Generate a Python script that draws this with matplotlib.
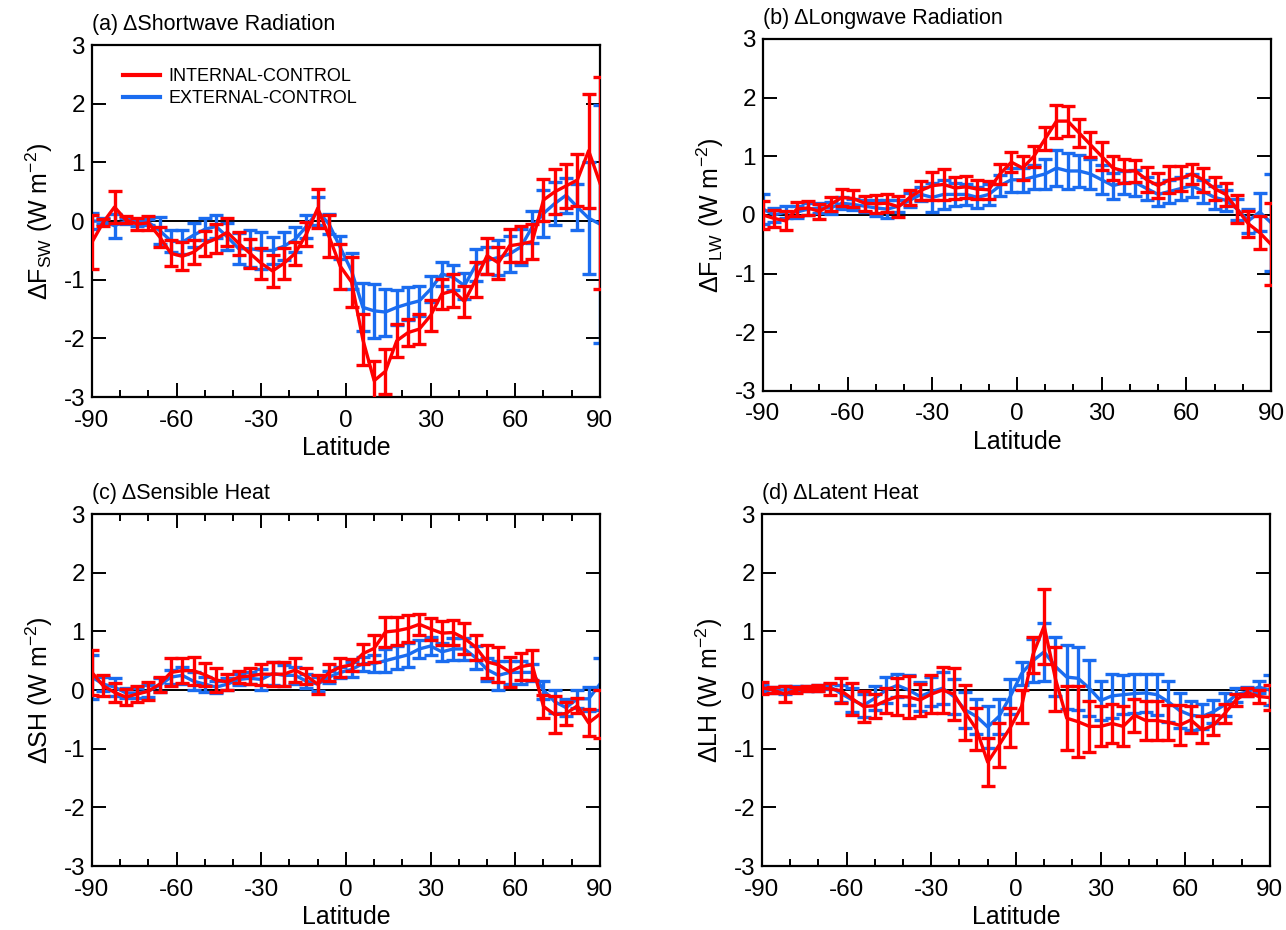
import numpy as np
import matplotlib
matplotlib.use("Agg")
import matplotlib.pyplot as plt
from matplotlib.lines import Line2D

plt.rcParams['font.family'] = ['Liberation Sans', 'DejaVu Sans']
plt.rcParams['mathtext.fontset'] = 'custom'
plt.rcParams['mathtext.rm'] = 'Liberation Sans'
plt.rcParams['axes.unicode_minus'] = False

# latitude grid (4 degree bands)
lat = np.arange(-90, 91, 4)

# (a) shortwave
sw_int = [-0.36, -0.02, 0.24, 0.02, -0.05, -0.03, -0.27, -0.55, -0.60, -0.53,
          -0.38, -0.30, -0.19, -0.38, -0.55, -0.72, -0.85, -0.72, -0.55, -0.22,
          0.22, -0.26, -0.77, -1.04, -2.02, -2.72, -2.56, -2.04, -1.90, -1.84,
          -1.61, -1.24, -1.19, -1.37, -1.00, -0.59, -0.71, -0.42, -0.39, -0.35,
          0.36, 0.50, 0.60, 0.70, 1.20, 0.65]
sw_int_err = [0.46, 0.06, 0.27, 0.06, 0.10, 0.12, 0.17, 0.22, 0.24, 0.20,
              0.21, 0.25, 0.24, 0.20, 0.25, 0.27, 0.28, 0.26, 0.19, 0.20,
              0.33, 0.36, 0.38, 0.43, 0.44, 0.33, 0.38, 0.28, 0.23, 0.26,
              0.26, 0.26, 0.28, 0.27, 0.30, 0.31, 0.27, 0.28, 0.31, 0.30,
              0.35, 0.38, 0.37, 0.45, 0.97, 1.80]
sw_ext = [0.00, 0.00, -0.08, 0.00, -0.03, -0.02, -0.16, -0.34, -0.36, -0.24,
          -0.14, -0.09, -0.27, -0.47, -0.47, -0.50, -0.50, -0.43, -0.31, -0.09,
          0.17, -0.05, -0.45, -0.85, -1.47, -1.53, -1.55, -1.47, -1.41, -1.36,
          -1.16, -0.90, -0.96, -1.10, -0.75, -0.67, -0.62, -0.56, -0.44, -0.10,
          0.13, 0.30, 0.44, 0.24, 0.05, -0.05]
sw_ext_err = [0.13, 0.05, 0.20, 0.05, 0.06, 0.05, 0.23, 0.19, 0.20, 0.20,
              0.19, 0.19, 0.23, 0.26, 0.31, 0.31, 0.23, 0.24, 0.21, 0.19,
              0.24, 0.17, 0.20, 0.30, 0.41, 0.46, 0.40, 0.30, 0.28, 0.25,
              0.22, 0.20, 0.22, 0.22, 0.27, 0.23, 0.30, 0.30, 0.30, 0.27,
              0.40, 0.36, 0.30, 0.40, 0.95, 2.03]

# (b) longwave
lw_int = [0.00, -0.06, -0.10, 0.10, 0.12, 0.06, 0.18, 0.30, 0.28, 0.20,
          0.19, 0.20, 0.14, 0.30, 0.42, 0.50, 0.52, 0.46, 0.48, 0.44,
          0.43, 0.70, 0.90, 0.80, 1.00, 1.30, 1.60, 1.60, 1.40, 1.20,
          1.00, 0.80, 0.75, 0.75, 0.60, 0.50, 0.60, 0.62, 0.70, 0.60,
          0.45, 0.35, 0.10, -0.15, -0.30, -0.50]
lw_int_err = [0.24, 0.15, 0.16, 0.12, 0.12, 0.13, 0.12, 0.15, 0.15, 0.13,
              0.15, 0.15, 0.18, 0.13, 0.16, 0.24, 0.26, 0.19, 0.19, 0.16,
              0.15, 0.17, 0.17, 0.20, 0.18, 0.20, 0.28, 0.26, 0.24, 0.21,
              0.24, 0.20, 0.20, 0.18, 0.21, 0.21, 0.23, 0.21, 0.17, 0.20,
              0.20, 0.20, 0.24, 0.22, 0.28, 0.70]
lw_ext = [0.10, 0.00, 0.05, 0.05, 0.10, 0.12, 0.12, 0.20, 0.18, 0.15,
          0.12, 0.10, 0.15, 0.25, 0.35, 0.30, 0.35, 0.35, 0.35, 0.30,
          0.35, 0.50, 0.60, 0.60, 0.65, 0.70, 0.80, 0.75, 0.75, 0.70,
          0.60, 0.50, 0.55, 0.55, 0.45, 0.35, 0.40, 0.45, 0.50, 0.40,
          0.30, 0.25, 0.10, -0.10, 0.05, -0.13]
lw_ext_err = [0.26, 0.12, 0.10, 0.10, 0.10, 0.08, 0.10, 0.10, 0.10, 0.10,
              0.13, 0.15, 0.10, 0.12, 0.12, 0.25, 0.25, 0.20, 0.18, 0.18,
              0.18, 0.18, 0.20, 0.20, 0.20, 0.25, 0.30, 0.30, 0.28, 0.25,
              0.25, 0.22, 0.20, 0.22, 0.20, 0.20, 0.20, 0.20, 0.20, 0.20,
              0.20, 0.18, 0.18, 0.20, 0.33, 0.83]

# (c) sensible heat
sh_int = [0.30, 0.07, -0.04, -0.12, -0.07, -0.02, 0.10, 0.30, 0.33, 0.33,
          0.26, 0.17, 0.14, 0.22, 0.24, 0.27, 0.27, 0.27, 0.34, 0.24,
          0.10, 0.30, 0.39, 0.43, 0.62, 0.71, 0.99, 1.01, 1.05, 1.12,
          1.04, 0.97, 0.98, 0.88, 0.73, 0.48, 0.43, 0.31, 0.40, 0.43,
          -0.28, -0.42, -0.40, -0.27, -0.56, -0.41]
sh_int_err = [0.38, 0.18, 0.16, 0.13, 0.13, 0.15, 0.13, 0.24, 0.21, 0.24,
              0.20, 0.20, 0.14, 0.10, 0.13, 0.18, 0.21, 0.21, 0.20, 0.13,
              0.16, 0.14, 0.16, 0.10, 0.17, 0.23, 0.26, 0.24, 0.23, 0.18,
              0.18, 0.20, 0.21, 0.26, 0.21, 0.28, 0.30, 0.26, 0.23, 0.26,
              0.20, 0.31, 0.20, 0.13, 0.23, 0.41]
sh_ext = [0.22, 0.10, 0.05, -0.05, -0.05, -0.02, 0.08, 0.22, 0.25, 0.15,
          0.10, 0.05, 0.10, 0.18, 0.20, 0.18, 0.28, 0.25, 0.25, 0.15,
          0.10, 0.22, 0.30, 0.35, 0.45, 0.45, 0.50, 0.55, 0.60, 0.70,
          0.75, 0.65, 0.70, 0.70, 0.55, 0.35, 0.25, 0.30, 0.30, 0.30,
          0.00, -0.20, -0.30, -0.15, -0.15, 0.10]
sh_ext_err = [0.38, 0.12, 0.15, 0.08, 0.08, 0.10, 0.12, 0.12, 0.15, 0.15,
              0.13, 0.10, 0.10, 0.10, 0.10, 0.18, 0.20, 0.18, 0.15, 0.12,
              0.12, 0.10, 0.10, 0.12, 0.12, 0.15, 0.20, 0.20, 0.20, 0.15,
              0.15, 0.15, 0.18, 0.18, 0.20, 0.20, 0.25, 0.20, 0.20, 0.15,
              0.15, 0.20, 0.15, 0.15, 0.20, 0.44]

# (d) latent heat
lh_int = [0.04, 0.00, -0.07, 0.00, 0.02, 0.03, 0.02, -0.01, -0.15, -0.28,
          -0.27, -0.18, -0.11, -0.12, -0.17, -0.07, 0.00, -0.07, -0.38, -0.67,
          -1.23, -0.94, -0.64, -0.28, 0.60, 1.09, 0.19, -0.48, -0.54, -0.62,
          -0.62, -0.57, -0.62, -0.43, -0.52, -0.52, -0.55, -0.60, -0.51, -0.68,
          -0.60, -0.40, -0.17, -0.04, -0.11, -0.13]
lh_int_err = [0.10, 0.05, 0.13, 0.05, 0.04, 0.05, 0.10, 0.21, 0.27, 0.26,
              0.21, 0.21, 0.31, 0.36, 0.28, 0.33, 0.40, 0.44, 0.47, 0.36,
              0.41, 0.37, 0.33, 0.28, 0.31, 0.64, 0.55, 0.54, 0.60, 0.43,
              0.34, 0.34, 0.34, 0.28, 0.33, 0.33, 0.30, 0.34, 0.23, 0.23,
              0.17, 0.17, 0.11, 0.07, 0.11, 0.21]
lh_ext = [0.03, 0.00, 0.00, 0.02, 0.03, 0.04, 0.06, -0.06, -0.17, -0.26,
          -0.14, 0.00, 0.08, 0.00, -0.11, -0.03, 0.03, -0.11, -0.34, -0.45,
          -0.63, -0.45, -0.11, 0.28, 0.50, 0.65, 0.40, 0.22, 0.20, 0.03,
          -0.18, -0.10, -0.08, -0.06, -0.05, -0.08, -0.20, -0.35, -0.43, -0.45,
          -0.37, -0.25, -0.08, -0.03, 0.05, 0.00]
lh_ext_err = [0.05, 0.05, 0.06, 0.04, 0.04, 0.05, 0.05, 0.15, 0.20, 0.20,
              0.20, 0.22, 0.20, 0.25, 0.25, 0.25, 0.27, 0.30, 0.30, 0.30,
              0.35, 0.30, 0.30, 0.20, 0.37, 0.50, 0.51, 0.54, 0.54, 0.48,
              0.33, 0.37, 0.33, 0.33, 0.33, 0.35, 0.35, 0.30, 0.25, 0.22,
              0.20, 0.20, 0.12, 0.08, 0.10, 0.25]

red = '#ff0000'
blue = '#1a6cf0'


def panel(rect, title, ylabel, ext, ext_err, intl, intl_err, top_ticks=False):
    ax = fig.add_axes(rect)
    ax.axhline(0, color='black', lw=1.4, zorder=1)
    kw = dict(lw=2.4, elinewidth=2.4, capsize=4.8, capthick=2.4)
    ax.errorbar(lat, ext, yerr=ext_err, color=blue, zorder=2, **kw)
    ax.errorbar(lat, intl, yerr=intl_err, color=red, zorder=3, **kw)
    ax.set_xlim(-90, 90)
    ax.set_ylim(-3, 3)
    ax.set_xticks([-90, -60, -30, 0, 30, 60, 90])
    ax.set_xticks(np.arange(-80, 90, 10), minor=True)
    ax.set_yticks([-3, -2, -1, 0, 1, 2, 3])
    ax.tick_params(axis='x', which='major', direction='in', length=10, width=1.4,
                   top=top_ticks, labelsize=17.5, pad=9)
    ax.tick_params(axis='x', which='minor', direction='in', length=5, width=1.4,
                   top=top_ticks)
    ax.tick_params(axis='y', direction='in', length=10, width=1.4, right=True,
                   labelsize=17.5, pad=5)
    for s in ax.spines.values():
        s.set_linewidth(1.6)
    ax.set_xlabel('Latitude', fontsize=18, labelpad=3)
    ax.set_ylabel(ylabel, fontsize=18, labelpad=6)
    ax.set_title(title, loc='left', fontsize=15.5, pad=11)
    return ax


fig = plt.figure(figsize=(12.86, 9.30), dpi=100)

ax_a = panel([0.0715, 0.573, 0.395, 0.3785], '(a) \u0394Shortwave Radiation',
             '\u0394F$_{\\mathregular{SW}}$ (W m$^{\\mathregular{-2}}$)',
             sw_ext, sw_ext_err, sw_int, sw_int_err)
panel([0.5933, 0.5796, 0.395, 0.3785], '(b) \u0394Longwave Radiation',
      '\u0394F$_{\\mathregular{LW}}$ (W m$^{\\mathregular{-2}}$)',
      lw_ext, lw_ext_err, lw_int, lw_int_err)
panel([0.0715, 0.0688, 0.395, 0.3785], '(c) \u0394Sensible Heat',
      '\u0394SH (W m$^{\\mathregular{-2}}$)',
      sh_ext, sh_ext_err, sh_int, sh_int_err, top_ticks=True)
panel([0.5925, 0.0688, 0.395, 0.3785], '(d) \u0394Latent Heat',
      '\u0394LH (W m$^{\\mathregular{-2}}$)',
      lh_ext, lh_ext_err, lh_int, lh_int_err)

handles = [Line2D([], [], color=red, lw=3), Line2D([], [], color=blue, lw=3)]
ax_a.legend(handles, ['INTERNAL-CONTROL', 'EXTERNAL-CONTROL'], loc='upper left',
            bbox_to_anchor=(0.03, 0.98), frameon=False, fontsize=13,
            handlelength=2.0, handletextpad=0.5, labelspacing=0.25)

fig.savefig('out.png', dpi=100)
